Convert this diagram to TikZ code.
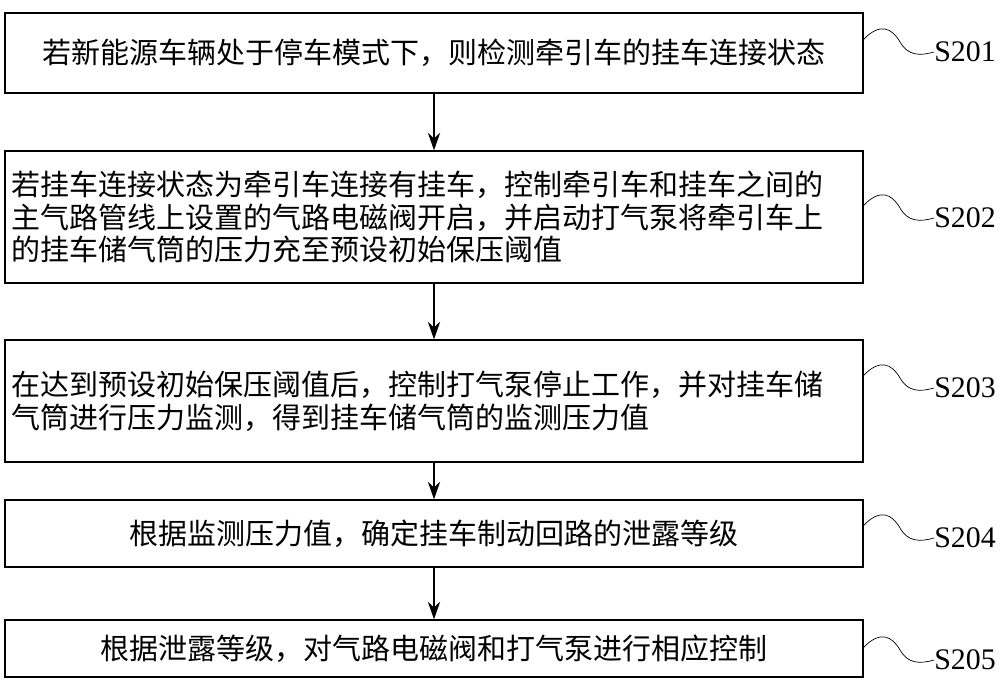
\documentclass[tikz,border=0pt]{standalone}
\usepackage{fontspec}
\setmainfont{Liberation Serif}
\newfontfamily\cjk{Noto Sans CJK SC}
\usetikzlibrary{arrows.meta}
\tikzset{
  stepbox/.style={draw, thick, minimum width=17.16cm, inner sep=0pt, font=\cjk\fontsize{16.5}{18.7}\selectfont},
  steplabel/.style={anchor=west, inner sep=0pt, font=\fontsize{17}{20}\selectfont},
  flow/.style={->, thick, >={Stealth[length=10pt,width=7pt]}}
}
\begin{document}
\begin{tikzpicture}[x=0.02cm, y=-0.02cm]
        \useasboundingbox (0,0) rectangle (1000,682);
        % boxes
        \node[stepbox, minimum height=1.6cm] (b1) at (434,53) {若新能源车辆处于停车模式下，则检测牵引车的挂车连接状态};
        \node[stepbox, minimum height=2.64cm, text width=16.9cm, align=left] (b2) at (434,217)
            {若挂车连接状态为牵引车连接有挂车，控制牵引车和挂车之间的\\主气路管线上设置的气路电磁阀开启，并启动打气泵将牵引车上\\的挂车储气筒的压力充至预设初始保压阈值};
        \node[stepbox, minimum height=2.44cm, text width=16.9cm, align=left] (b3) at (434,401)
            {在达到预设初始保压阈值后，控制打气泵停止工作，并对挂车储\\气筒进行压力监测，得到挂车储气筒的监测压力值};
        \node[stepbox, minimum height=1.34cm] (b4) at (434,533.5) {根据监测压力值，确定挂车制动回路的泄露等级};
        \node[stepbox, minimum height=1.14cm] (b5) at (434,648.5) {根据泄露等级，对气路电磁阀和打气泵进行相应控制};

        % arrows
        \foreach \a/\b in {b1/b2, b2/b3, b3/b4, b4/b5}
            \draw[flow] (\a.south) -- (\b.north);

        % step labels with wavy leaders
        \foreach \n/\y/\t in {b1/52/S201, b2/218/S202, b3/388/S203, b4/538/S204, b5/660/S205} {
            \node[steplabel] (l\n) at (934,\y) {\t};
            \draw (863,\y-12) .. controls (880,\y-30) and (892,\y-24) .. (900,\y-10)
                .. controls (908,\y+4) and (920,\y+4) .. (l\n.west);
        }
\end{tikzpicture}
\end{document}
